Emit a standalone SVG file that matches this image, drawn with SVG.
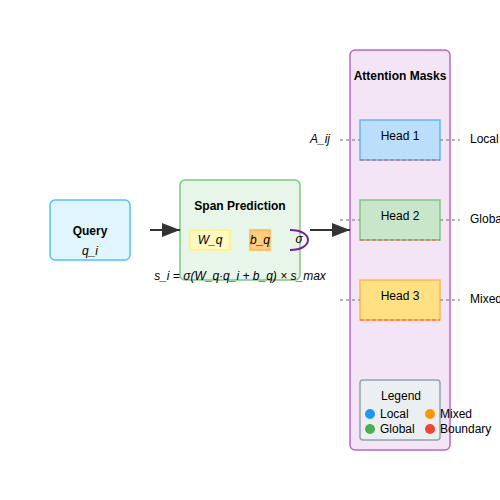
<svg xmlns="http://www.w3.org/2000/svg" width="500" height="500" viewBox="0 0 500 500">
<defs>
<marker id="arr" markerWidth="18" markerHeight="14" refX="18" refY="7" orient="auto" markerUnits="userSpaceOnUse" viewBox="0 0 18 14">
<path d="M0,0 L18,7 L0,14 z" fill="#333"/>
</marker>
<style>
text{font-family:"Liberation Sans",Arial,sans-serif;fill:#000}
.b{font-weight:bold;font-size:12px}
.i{font-style:italic;font-size:12px}
.n{font-size:12px}
.dash{stroke:#999;stroke-width:1.5;stroke-dasharray:3,3}
.bnd{stroke:#f44336;stroke-opacity:0.6;stroke-width:1.5;stroke-dasharray:4,2}
</style>
</defs>
<rect width="500" height="500" fill="#fff"/>
<g id="attention-masks">
<rect x="350" y="50" width="100" height="400" rx="5" fill="#f3e5f5" stroke="#ba68c8" stroke-width="1.5"/>
<text x="400" y="80" text-anchor="middle" class="b">Attention Masks</text>
</g>
<g id="query">
<rect x="50" y="200" width="80" height="60" rx="5" fill="#e1f5fe" stroke="#4fc3f7" stroke-width="1.5"/>
<text x="90" y="235" text-anchor="middle" class="b">Query</text>
<text x="90" y="255" text-anchor="middle" class="i">q_i</text>
</g>
<g id="span-prediction">
<rect x="180" y="180" width="120" height="100" rx="5" fill="#e8f5e9" stroke="#81c784" stroke-width="1.5"/>
<text x="240" y="210" text-anchor="middle" class="b">Span Prediction</text>
<rect x="190" y="230" width="40" height="20" fill="#fff9c4" stroke="#fff176" stroke-width="1.5"/>
<text x="210" y="244" text-anchor="middle" class="i">W_q</text>
<rect x="250" y="230" width="20" height="20" fill="#ffcc80" stroke="#ffb74d" stroke-width="1.5"/>
<text x="260" y="244" text-anchor="middle" class="i">b_q</text>
<path d="M290,230 C314,230 314,250 290,250" fill="none" stroke="#7b1fa2" stroke-width="2"/>
<text x="299" y="243" text-anchor="middle" class="i">σ</text>
<text x="240" y="280" text-anchor="middle" class="i">s_i = σ(W_q·q_i + b_q) × s_max</text>
</g>
<g id="head1">
<rect x="360" y="120" width="80" height="40" fill="#bbdefb" stroke="#64b5f6" stroke-width="1.5"/>
<line x1="360" y1="160" x2="440" y2="160" class="bnd"/>
<text x="400" y="140" text-anchor="middle" class="n">Head 1</text>
</g>
<g id="head2">
<rect x="360" y="200" width="80" height="40" fill="#c8e6c9" stroke="#81c784" stroke-width="1.5"/>
<line x1="360" y1="240" x2="440" y2="240" class="bnd"/>
<text x="400" y="220" text-anchor="middle" class="n">Head 2</text>
</g>
<g id="head3">
<rect x="360" y="280" width="80" height="40" fill="#ffe082" stroke="#ffb74d" stroke-width="1.5"/>
<line x1="360" y1="320" x2="440" y2="320" class="bnd"/>
<text x="400" y="300" text-anchor="middle" class="n">Head 3</text>
</g>
<g id="labels">
<text x="320" y="143" text-anchor="middle" class="i">A_ij</text>
<text x="470" y="143" class="n">Local</text>
<text x="470" y="223" class="n">Global</text>
<text x="470" y="303" class="n">Mixed</text>
</g>
<g id="legend">
<rect x="360" y="380" width="80" height="60" rx="3" fill="#eceff1" stroke="#90a4ae" stroke-width="1.5"/>
<text x="401" y="400" text-anchor="middle" class="n">Legend</text>
<circle cx="370" cy="414" r="5" fill="#2196f3"/>
<text x="380" y="418" class="n">Local</text>
<circle cx="370" cy="429" r="5" fill="#4caf50"/>
<text x="380" y="433" class="n">Global</text>
<circle cx="430" cy="414" r="5" fill="#ff9800"/>
<text x="440" y="418" class="n">Mixed</text>
<circle cx="430" cy="429" r="5" fill="#f44336"/>
<text x="440" y="433" class="n">Boundary</text>
</g>
<g id="connectors">
<line x1="150" y1="230" x2="180" y2="230" stroke="#333" stroke-width="2" marker-end="url(#arr)"/>
<line x1="310" y1="230" x2="350" y2="230" stroke="#333" stroke-width="2" marker-end="url(#arr)"/>
<line x1="340" y1="140" x2="360" y2="140" class="dash"/>
<line x1="440" y1="140" x2="460" y2="140" class="dash"/>
<line x1="340" y1="220" x2="360" y2="220" class="dash"/>
<line x1="440" y1="220" x2="460" y2="220" class="dash"/>
<line x1="340" y1="300" x2="360" y2="300" class="dash"/>
<line x1="440" y1="300" x2="460" y2="300" class="dash"/>
</g>
</svg>
